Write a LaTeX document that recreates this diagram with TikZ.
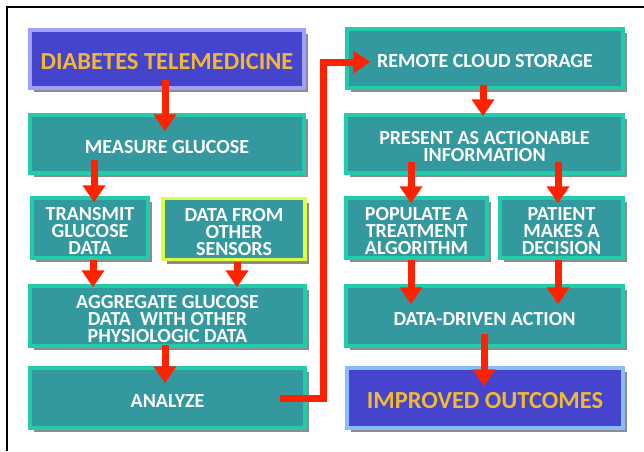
\documentclass[tikz,border=0pt]{standalone}
\usepackage{fontspec}
\setmainfont{Carlito}
\usetikzlibrary{arrows.meta,shadows}
\definecolor{tealfill}{HTML}{33999F}
\definecolor{tealedge}{HTML}{22CCAA}
\definecolor{bluefill}{HTML}{4444CC}
\definecolor{blueedge}{HTML}{A0A0FF}
\definecolor{blueedgeb}{HTML}{88BBFF}
\definecolor{goldtext}{HTML}{F2B833}
\definecolor{limeedge}{HTML}{DDFF44}
\definecolor{arrowred}{HTML}{FF2200}
\tikzset{
  boxbase/.style={rectangle, line width=3.5pt, inner sep=0pt,
    drop shadow={shadow xshift=3.5pt, shadow yshift=-4pt, fill=black, opacity=0.45}},
  tbox/.style={boxbase, fill=tealfill, draw=tealedge},
  bbox/.style={boxbase, fill=bluefill, draw=blueedge},
  tlabel/.style={text=white, align=center, inner sep=0pt, yshift=-3pt,
    font=\bfseries\fontsize{20}{17}\selectfont},
  blabel/.style={text=goldtext, align=center, inner sep=0pt, yshift=-2.5pt,
    font=\bfseries\fontsize{24.5}{24}\selectfont},
  redarrow/.style={draw=arrowred, line width=7pt,
    -{Triangle[width=22pt,length=17pt]}, arrowred},
  frameline/.style={draw=black, line width=1.5pt}
}
\begin{document}
\begin{tikzpicture}[x=1pt,y=-1pt]
\useasboundingbox (0,0) rectangle (644,451);
\coordinate (fa) at (7,451);
\coordinate (fb) at (7,7);
\coordinate (fc) at (644,7);
\draw[frameline] (fa) -- (fb) -- (fc);

% left column
\node[bbox, minimum width=274pt, minimum height=58pt,
  label={[blabel, name=dt-t]center:DIABETES TELEMEDICINE}] (dt) at (167,59) {};
\node[tbox, minimum width=274pt, minimum height=58pt,
  label={[tlabel, name=mg-t]center:MEASURE GLUCOSE}] (mg) at (167,144) {};
\node[tbox, minimum width=116pt, minimum height=60pt,
  label={[tlabel, name=tg-t]center:TRANSMIT\\GLUCOSE\\DATA}] (tg) at (90,228) {};
\node[tbox, draw=limeedge, minimum width=142pt, minimum height=61pt,
  label={[tlabel, name=ds-t, yshift=-0.5pt]center:DATA FROM\\OTHER\\SENSORS}] (ds) at (234,229) {};
\node[tbox, minimum width=275pt, minimum height=60pt,
  label={[tlabel, name=ag-t]center:AGGREGATE GLUCOSE\\DATA\ \ WITH OTHER\\PHYSIOLOGIC DATA}] (ag) at (167.5,316) {};
\node[tbox, minimum width=275pt, minimum height=60pt,
  label={[tlabel, name=an-t]center:ANALYZE}] (an) at (167.5,398) {};

% right column
\node[tbox, minimum width=276pt, minimum height=59pt,
  label={[tlabel, name=rc-t]center:REMOTE CLOUD STORAGE}] (rc) at (485,58.5) {};
\node[tbox, minimum width=277pt, minimum height=58pt,
  label={[tlabel, name=pa-t]center:PRESENT AS ACTIONABLE\\INFORMATION}] (pa) at (484.5,144) {};
\node[tbox, minimum width=141pt, minimum height=60pt,
  label={[tlabel, name=po-t]center:POPULATE A\\TREATMENT\\ALGORITHM}] (po) at (416.5,228) {};
\node[tbox, minimum width=123pt, minimum height=60pt,
  label={[tlabel, name=pt-t]center:PATIENT\\MAKES A\\DECISION}] (pt) at (561.5,228) {};
\node[tbox, minimum width=277pt, minimum height=60pt,
  label={[tlabel, name=dd-t]center:DATA-DRIVEN ACTION}] (dd) at (484.5,316) {};
\node[bbox, draw=blueedgeb, minimum width=276pt, minimum height=60pt,
  label={[blabel, name=io-t]center:IMPROVED OUTCOMES}] (io) at (485,398) {};

% arrows
\draw[redarrow] ([xshift=-2pt,yshift=10pt]dt.south) -- ([xshift=-2pt,yshift=-18pt]mg.north);
\draw[redarrow] ([xshift=-73pt,yshift=15pt]mg.south) -- ([xshift=4pt,yshift=-6pt]tg.north);
\draw[redarrow] ([xshift=3pt]tg.south) -- ([xshift=-74.5pt,yshift=-3pt]ag.north);
\draw[redarrow] ([xshift=3pt,yshift=-1pt]ds.south) -- ([xshift=69.5pt,yshift=-3pt]ag.north);
\draw[redarrow] ([xshift=-2.5pt,yshift=3pt]ag.south) -- ([xshift=-2.5pt,yshift=-17pt]an.north);
\draw[redarrow] ([xshift=-27pt]an.east) -| ([xshift=-22pt,yshift=-3.5pt]rc.west) -- ([xshift=25pt,yshift=-3.5pt]rc.west);
\draw[redarrow] ([xshift=-2pt,yshift=5pt]rc.south) -- ([xshift=-1.5pt,yshift=-3pt]pa.north);
\draw[redarrow] ([xshift=-73.5pt,yshift=13pt]pa.south) -- ([xshift=-5.5pt,yshift=-7pt]po.north);
\draw[redarrow] ([xshift=73.5pt,yshift=13pt]pa.south) -- ([xshift=-3.5pt,yshift=-7pt]pt.north);
\draw[redarrow] ([xshift=-5.5pt]po.south) -- ([xshift=-73.5pt,yshift=-20pt]dd.north);
\draw[redarrow] ([xshift=-3.5pt]pt.south) -- ([xshift=73.5pt,yshift=-20pt]dd.north);
\draw[redarrow] ([xshift=-0.5pt,yshift=14pt]dd.south) -- ([xshift=-1pt,yshift=-20pt]io.north);
\end{tikzpicture}
\end{document}
